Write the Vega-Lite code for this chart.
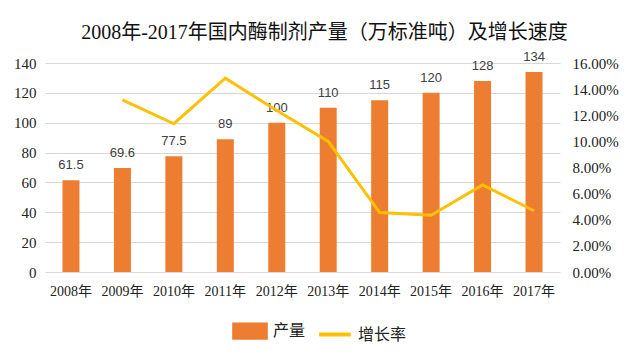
{
  "$schema": "https://vega.github.io/schema/vega-lite/v6.json",
  "width": 515,
  "height": 209,
  "autosize": {"type": "none"},
  "padding": {"left": 45, "top": 63, "right": 77, "bottom": 84},
  "background": "white",
  "title": {
    "text": "2008年-2017年国内酶制剂产量（万标准吨）及增长速度",
    "font": "Liberation Serif, Noto Sans CJK SC",
    "fontSize": 20,
    "fontWeight": "normal",
    "color": "#111111",
    "anchor": "middle",
    "dx": 22,
    "offset": 8
  },
  "data": {
    "values": [
      {"year": "2008年", "output": 61.5, "rate": null},
      {"year": "2009年", "output": 69.6, "rate": 0.1317},
      {"year": "2010年", "output": 77.5, "rate": 0.1135},
      {"year": "2011年", "output": 89, "rate": 0.1484},
      {"year": "2012年", "output": 100, "rate": 0.1236},
      {"year": "2013年", "output": 110, "rate": 0.1},
      {"year": "2014年", "output": 115, "rate": 0.0455},
      {"year": "2015年", "output": 120, "rate": 0.0435},
      {"year": "2016年", "output": 128, "rate": 0.0667},
      {"year": "2017年", "output": 134, "rate": 0.0469}
    ]
  },
  "encoding": {
    "x": {
      "field": "year",
      "type": "nominal",
      "sort": null,
      "scale": {"paddingInner": 0.67, "paddingOuter": 0.34},
      "axis": {
        "title": null,
        "labelAngle": 0,
        "ticks": false,
        "domain": false,
        "labelPadding": 12,
        "labelFont": "Liberation Serif, Noto Sans CJK SC",
        "labelFontSize": 14,
        "labelColor": "#222222"
      }
    }
  },
  "layer": [
    {
      "mark": {"type": "bar", "size": 17},
      "encoding": {
        "y": {
          "field": "output",
          "type": "quantitative",
          "scale": {"domain": [0, 140]},
          "axis": {
            "title": null,
            "values": [0, 20, 40, 60, 80, 100, 120, 140],
            "domain": false,
            "ticks": false,
            "grid": true,
            "gridColor": "#d9d9d9",
            "gridWidth": 1,
            "labelPadding": 9,
            "labelFont": "Liberation Serif",
            "labelFontSize": 15,
            "labelColor": "#222222"
          }
        },
        "color": {
          "datum": "产量",
          "scale": {"domain": ["产量", "增长率"], "range": ["#ED7D31", "#FFC000"]},
          "legend": {
            "title": null,
            "orient": "none",
            "legendX": 187,
            "legendY": 250,
            "direction": "horizontal",
            "labelFont": "Noto Sans CJK SC",
            "labelFontSize": 16,
            "labelColor": "#222222",
            "symbolSize": 1000,
            "labelOffset": 5,
            "columnPadding": 5,
            "encode": {
              "symbols": {
                "update": {
                  "shape": {"signal": "datum.value === '产量' ? 'M-1,-0.42H1V0.42H-1Z' : 'stroke'"},
                  "fill": {"signal": "datum.value === '产量' ? '#D9692A' : 'transparent'"},
                  "stroke": {"signal": "datum.value === '产量' ? 'transparent' : '#FFC000'"},
                  "strokeWidth": {"value": 4},
                  "opacity": {"value": 1}
                }
              }
            }
          }
        }
      }
    },
    {
      "mark": {"type": "text", "baseline": "bottom", "dy": -8, "font": "Liberation Sans", "fontSize": 13, "color": "#404040"},
      "encoding": {
        "y": {"field": "output", "type": "quantitative", "scale": {"domain": [0, 140]}, "axis": null},
        "text": {"field": "output", "type": "quantitative", "format": "~g"}
      }
    },
    {
      "mark": {"type": "line", "strokeWidth": 3, "interpolate": "linear"},
      "encoding": {
        "y": {
          "field": "rate",
          "type": "quantitative",
          "scale": {"domain": [0, 0.16]},
          "axis": {
            "orient": "right",
            "title": null,
            "format": ".2%",
            "values": [0, 0.02, 0.04, 0.06, 0.08, 0.1, 0.12, 0.14, 0.16],
            "domain": false,
            "ticks": false,
            "grid": false,
            "labelPadding": 12,
            "labelFont": "Liberation Serif",
            "labelFontSize": 15,
            "labelColor": "#222222"
          }
        },
        "color": {"datum": "增长率"}
      }
    }
  ],
  "resolve": {"scale": {"y": "independent"}},
  "config": {"view": {"stroke": null}}
}
